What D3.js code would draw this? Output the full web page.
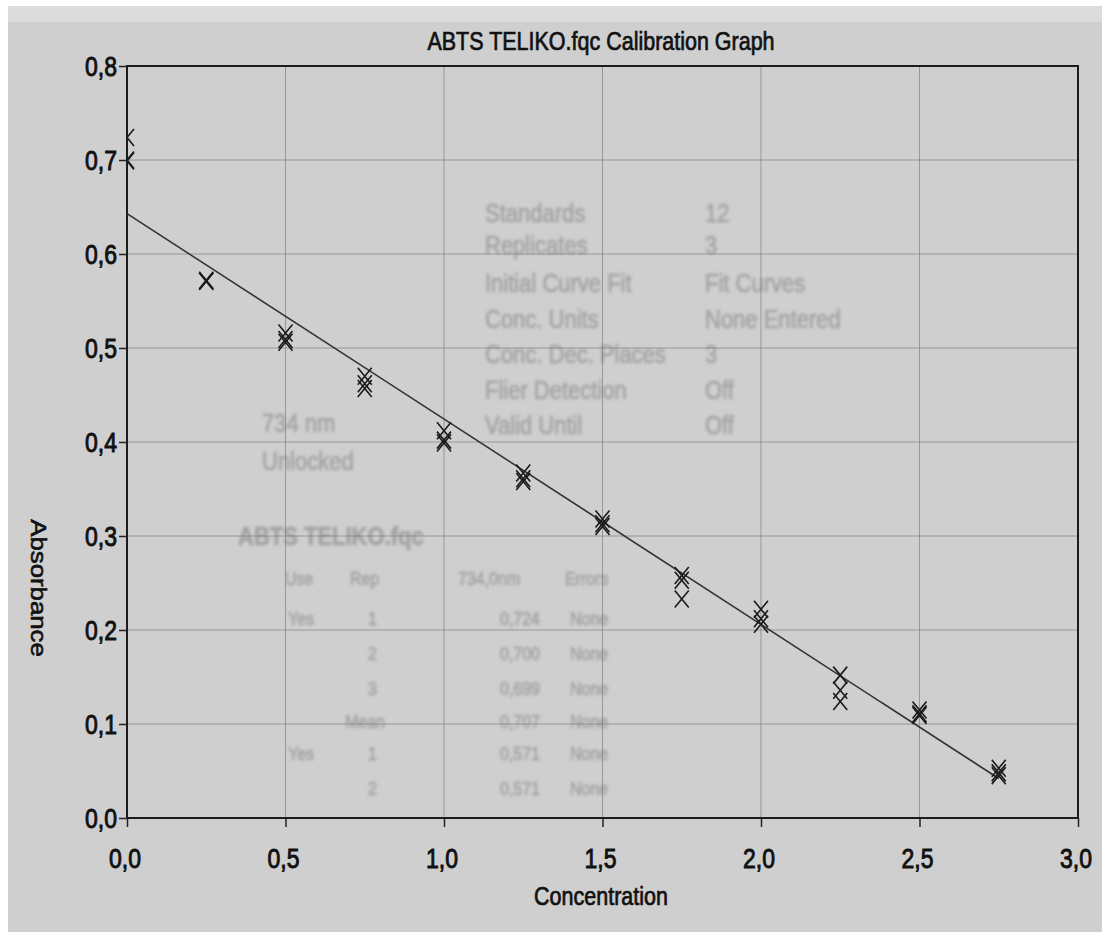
<!DOCTYPE html>
<html>
<head>
<meta charset="utf-8">
<script src="https://cdn.jsdelivr.net/npm/d3@7"></script>
<style>
  body { margin: 0; background: #fff; }
  svg text { font-family: "Liberation Sans", Arial, sans-serif; }
</style>
</head>
<body>
<svg id="chart"></svg>
<script>
// standards (concentration) and the three replicate readings for each
var stdConc = [0, 0, 0, 0.25, 0.25, 0.25, 0.5, 0.5, 0.5, 0.75, 0.75, 0.75,
               1.0, 1.0, 1.0, 1.25, 1.25, 1.25, 1.5, 1.5, 1.5, 1.75, 1.75, 1.75,
               2.0, 2.0, 2.0, 2.25, 2.25, 2.25, 2.5, 2.5, 2.5, 2.75, 2.75, 2.75];
var absorbance = [0.724, 0.700, 0.699, 0.571, 0.571, 0.572, 0.516, 0.509, 0.506, 0.470, 0.462, 0.457,
                  0.412, 0.402, 0.399, 0.367, 0.361, 0.358, 0.318, 0.313, 0.310, 0.258, 0.253, 0.233,
                  0.222, 0.212, 0.206, 0.152, 0.136, 0.124, 0.115, 0.111, 0.109, 0.053, 0.048, 0.045];
// fitted calibration line (ends)
var fitConc = [0, 2.75];
var fitAbs = [0.643, 0.042];

var xTicks = [0, 0.5, 1.0, 1.5, 2.0, 2.5, 3.0];
var yTicks = [0, 0.1, 0.2, 0.3, 0.4, 0.5, 0.6, 0.7, 0.8];

var title = "ABTS TELIKO.fqc Calibration Graph";
var xTitle = "Concentration";
var yTitle = "Absorbance";

// faint print-through from the page underneath
var ghostText = ["Standards", "12", "Replicates", "3", "Initial Curve Fit", "Fit Curves",
                 "Conc. Units", "None Entered", "Conc. Dec. Places", "3", "Flier Detection", "Off",
                 "Valid Until", "Off", "Unlocked", "734 nm", "ABTS TELIKO.fqc",
                 "Use", "Rep", "734,0nm", "Errors", "Yes", "1", "0,724", "None", "2", "0,700", "None",
                 "3", "0,699", "None", "Mean", "0,707", "None", "Yes", "1", "0,571", "None",
                 "2", "0,571", "None"];
var ghostPos = [[485,222],[705,222],[485,254],[705,254],[485,292],[705,292],
                [485,328],[705,328],[485,363],[705,363],[485,399],[705,399],
                [485,434],[705,434],[262,470],[262,432],[238,545],
                [285,585],[350,585],[458,585],[565,585],[288,625],[368,625],[500,625],[570,625],[368,660],[500,660],[570,660],
                [368,695],[500,695],[570,695],[345,728],[500,728],[570,728],[288,760],[368,760],[500,760],[570,760],
                [368,795],[500,795],[570,795]];

var W = 1109, H = 938;
var margin = {left: 127, right: 31, top: 66, bottom: 120};
var svg = d3.select("#chart").attr("width", W).attr("height", H);

// paper
svg.append("rect").attr("x", 8).attr("y", 6).attr("width", 1094).attr("height", 926).attr("fill", "#cfcfcf");
svg.append("rect").attr("x", 8).attr("y", 6).attr("width", 1094).attr("height", 16).attr("fill", "#dcdcdc");

var defs = svg.append("defs");
defs.append("filter").attr("id", "blur").append("feGaussianBlur").attr("stdDeviation", 1.4);
defs.append("clipPath").attr("id", "plotclip").append("rect")
  .attr("x", margin.left).attr("y", margin.top)
  .attr("width", W - margin.left - margin.right).attr("height", H - margin.top - margin.bottom);

var ghost = svg.append("g").attr("filter", "url(#blur)");
ghost.selectAll("text").data(ghostText).enter().append("text")
  .attr("transform", function(d, i) { return "translate(" + ghostPos[i][0] + "," + ghostPos[i][1] + ") scale(1,1.2)"; })
  .style("font-size", function(d, i) { return i == 16 ? "22px" : (i < 16 ? "22px" : "16px"); })
  .style("font-weight", function(d, i) { return i == 16 ? "bold" : "normal"; })
  .style("fill", "#a3a3a3")
  .style("stroke", "#a3a3a3").style("stroke-width", 0.6)
  .text(function(d) { return d; });

var x = d3.scaleLinear().domain([0, 3]).range([margin.left, W - margin.right]);
var y = d3.scaleLinear().domain([0, 0.8]).range([H - margin.bottom, margin.top]);
var fmt = function(d) { return d3.format(".1f")(d).replace(".", ","); };

// grid
svg.append("g").selectAll("line").data(xTicks.slice(1, -1)).enter().append("line")
  .attr("x1", function(d) { return x(d); }).attr("x2", function(d) { return x(d); })
  .attr("y1", y(0.8)).attr("y2", y(0))
  .attr("stroke", "#7a7a7a").attr("stroke-width", 1).attr("opacity", 0.65);
svg.append("g").selectAll("line").data(yTicks.slice(1, -1)).enter().append("line")
  .attr("x1", x(0)).attr("x2", x(3))
  .attr("y1", function(d) { return y(d); }).attr("y2", function(d) { return y(d); })
  .attr("stroke", "#7a7a7a").attr("stroke-width", 1).attr("opacity", 0.65);

// axes (tick marks only, labels drawn below)
var xAxis = svg.append("g").attr("transform", "translate(0," + y(0) + ")")
  .call(d3.axisBottom(x).tickValues(xTicks).tickSize(9).tickFormat(""));
var yAxis = svg.append("g").attr("transform", "translate(" + x(0) + ",0)")
  .call(d3.axisLeft(y).tickValues(yTicks).tickSize(8).tickFormat(""));
[xAxis, yAxis].forEach(function(a) {
  a.select(".domain").remove();
  a.selectAll("line").attr("stroke", "#222").attr("stroke-width", 1.5);
});

// frame
svg.append("rect").attr("x", x(0)).attr("y", y(0.8))
  .attr("width", x(3) - x(0)).attr("height", y(0) - y(0.8))
  .attr("fill", "none").attr("stroke", "#1c1c1c").attr("stroke-width", 2);

// fit line
svg.append("line")
  .attr("x1", x(fitConc[0])).attr("y1", y(fitAbs[0]))
  .attr("x2", x(fitConc[1])).attr("y2", y(fitAbs[1]))
  .attr("stroke", "#333").attr("stroke-width", 1.6);

// replicate markers (X)
var mk = svg.append("g").attr("clip-path", "url(#plotclip)");
var hw = 7, hh = 8.5;
mk.selectAll("path").data(absorbance).enter().append("path")
  .attr("d", function(d, i) {
    var cx = x(stdConc[i]), cy = y(d);
    return "M" + (cx - hw) + "," + (cy - hh) + "L" + (cx + hw) + "," + (cy + hh) +
           "M" + (cx + hw) + "," + (cy - hh) + "L" + (cx - hw) + "," + (cy + hh);
  })
  .attr("fill", "none").attr("stroke", "#1a1a1a").attr("stroke-width", 1.6);

// tick labels
svg.append("g").selectAll("text").data(yTicks).enter().append("text")
  .attr("transform", function(d) { return "translate(117," + (y(d) + 10) + ") scale(1,1.2)"; })
  .attr("text-anchor", "end")
  .style("font-size", "23px").style("fill", "#111").style("stroke", "#111").style("stroke-width", 0.8)
  .text(fmt);
svg.append("g").selectAll("text").data(xTicks).enter().append("text")
  .attr("transform", function(d) { return "translate(" + (x(d) - 2) + ",868) scale(1,1.2)"; })
  .attr("text-anchor", "middle")
  .style("font-size", "23px").style("fill", "#111").style("stroke", "#111").style("stroke-width", 0.8)
  .text(fmt);

// titles
svg.append("text")
  .attr("transform", "translate(601,50) scale(1,1.2)")
  .attr("text-anchor", "middle")
  .style("font-size", "21.5px").style("fill", "#111").style("stroke", "#111").style("stroke-width", 0.6)
  .text(title);
svg.append("text")
  .attr("transform", "translate(601,905) scale(1,1.2)")
  .attr("text-anchor", "middle")
  .style("font-size", "21.5px").style("fill", "#111").style("stroke", "#111").style("stroke-width", 0.6)
  .text(xTitle);
svg.append("text")
  .attr("transform", "translate(31,588) rotate(90) scale(1.2,1)")
  .attr("text-anchor", "middle")
  .style("font-size", "21.5px").style("fill", "#111").style("stroke", "#111").style("stroke-width", 0.6)
  .text(yTitle);
</script>
</body>
</html>
